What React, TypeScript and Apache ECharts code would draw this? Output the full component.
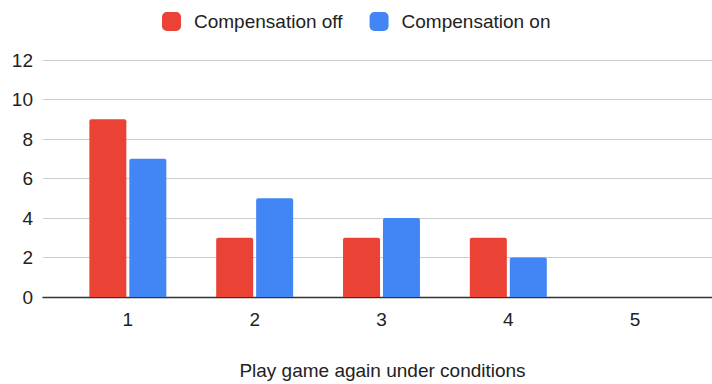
import React, { useEffect, useRef } from "react";
import * as echarts from "echarts";

const categories = [1, 2, 3, 4, 5];
const compensationOff = [9, 3, 3, 3, 0];
const compensationOn = [7, 5, 4, 2, 0];
const seriesNames = ["Compensation off", "Compensation on"];
const xAxisTitle = "Play game again under conditions";

const FONT = "'Liberation Sans', Arial, sans-serif";

export default function App() {
  const ref = useRef<HTMLDivElement>(null);
  useEffect(() => {
    if (!ref.current) return;
    const chart = echarts.init(ref.current, undefined, { renderer: "svg" });
    chart.setOption({
      animation: false,
      textStyle: { fontFamily: FONT },
      legend: {
        top: 7,
        left: 157,
        itemWidth: 19,
        itemHeight: 19,
        itemGap: 27,
        icon: "roundRect",
        textStyle: { fontSize: 19, color: "#222", fontFamily: FONT, padding: [0, 0, 0, 8] },
        data: seriesNames,
      },
      grid: { left: 43, right: 0, top: 60, bottom: 87, containLabel: false, outerBoundsMode: "none" },
      xAxis: {
        type: "value",
        min: 0.331,
        max: 5.606,
        name: xAxisTitle,
        nameLocation: "middle",
        nameGap: 64,
        nameTextStyle: { fontSize: 19, color: "#222", fontFamily: FONT, padding: [0, 0, 0, 10] },
        splitLine: { show: false },
        axisTick: { show: false },
        axisLine: { show: true, lineStyle: { color: "#333", width: 1.3 } },
        axisLabel: {
          customValues: categories,
          fontSize: 19,
          color: "#222",
          margin: 13,
          fontFamily: FONT,
        },
      },
      yAxis: {
        type: "value",
        min: 0,
        max: 12,
        interval: 2,
        axisLine: { show: false },
        axisTick: { show: false },
        splitLine: { lineStyle: { color: "#ccc", width: 1 } },
        axisLabel: { fontSize: 19, color: "#222", margin: 10, fontFamily: FONT },
      },
      series: [
        {
          name: seriesNames[0],
          type: "bar",
          data: categories.map((c, i) => [c, compensationOff[i]]),
          barWidth: 37,
          barGap: "8%",
          itemStyle: { color: "#EA4335", borderRadius: [2, 2, 0, 0] },
        },
        {
          name: seriesNames[1],
          type: "bar",
          data: categories.map((c, i) => [c, compensationOn[i]]),
          barWidth: 37,
          barGap: "8%",
          itemStyle: { color: "#4285F4", borderRadius: [2, 2, 0, 0] },
        },
      ],
    });
    return () => chart.dispose();
  }, []);
  return <div ref={ref} style={{ width: 712, height: 384, position: "absolute", left: 0, top: 0 }} />;
}
